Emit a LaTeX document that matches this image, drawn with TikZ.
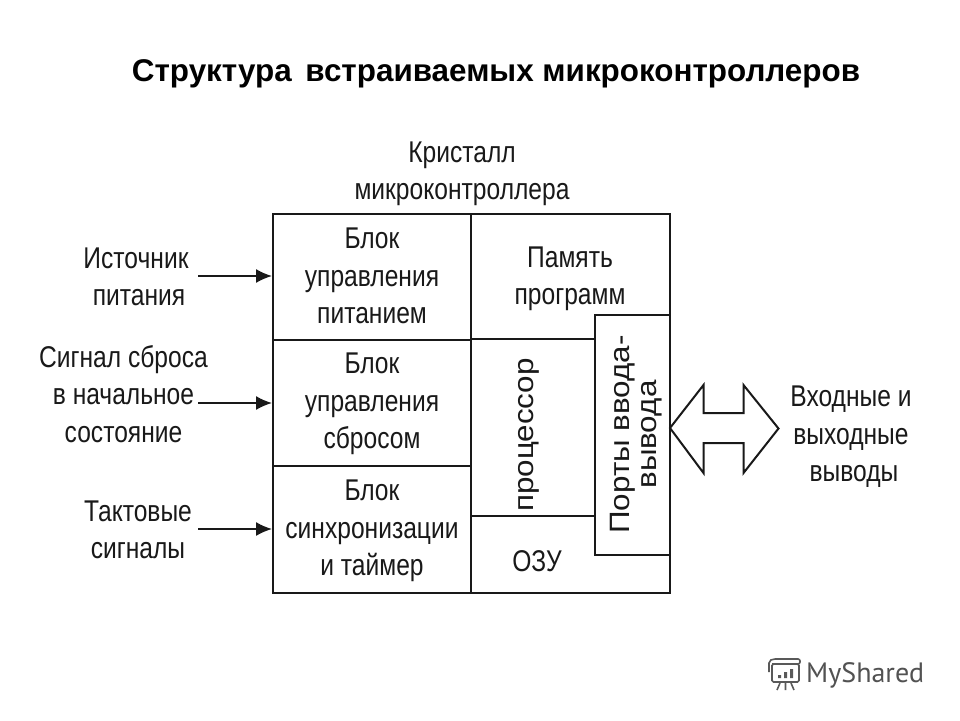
\documentclass[tikz,border=0pt]{standalone}
\usepackage{fontspec}
\setmainfont{Liberation Sans}
\newfontfamily\narrowf[FakeStretch=0.82]{Liberation Sans}
\newfontfamily\widef[FakeStretch=1.12]{Liberation Sans}
\newfontfamily\logof{PT Sans}
\usetikzlibrary{arrows.meta}
\tikzset{
  lbl/.style={align=center,font=\narrowf\fontsize{30}{37.5}\selectfont,inner sep=0pt,text=black!90},
  vert/.style={rotate=90,font=\widef\fontsize{28}{30}\selectfont,inner sep=0pt,text=black!90},
  blockbox/.style={draw=black!90,line width=2pt,inner sep=0pt,anchor=north west},
  ln/.style={draw=black!90,line width=2pt},
  arr/.style={draw=black!90,line width=1.6pt,-{Latex[length=16pt,width=14pt]}},
  logoline/.style={draw=black!65,line width=1.6pt}
}
\begin{document}
\begin{tikzpicture}[x=1pt,y=-1pt]
\useasboundingbox (0,0) rectangle (960,720);
\fill[white] (0,0) rectangle (960,720);
\node[inner sep=0pt,font=\bfseries\fontsize{31.4}{36}\selectfont] (title) at (496,74) {Структура\hspace{5pt} встраиваемых микроконтроллеров};
\node[lbl] (crystal) at (462,174) {Кристалл\\микроконтроллера};
% blocks
\node[blockbox,minimum width=198pt,minimum height=126pt] (blk1) at (272,213) {};
\node[blockbox,minimum width=198pt,minimum height=126pt] (blk2) at (272,339) {};
\node[blockbox,minimum width=198pt,minimum height=127pt] (blk3) at (272,465) {};
\node[blockbox,minimum width=199pt,minimum height=379pt] (right) at (470,213) {};
\node[blockbox,minimum width=75pt,minimum height=240pt] (ports) at (594,314) {};
\coordinate (p1) at (470,339);
\coordinate (p2) at (470,516);
\draw[ln] (p1) -- (p1 -| ports.west);
\draw[ln] (p2) -- (p2 -| ports.west);
% block texts
\node[lbl] (t1) at (372,276) {Блок\\управления\\питанием};
\node[lbl] (t2) at (372,404) {Блок\\управления\\сбросом};
\node[lbl] (t3) at (372,531) {Блок\\синхронизации\\и таймер};
\node[lbl] (mem) at (570,279) {Память\\программ};
\node[lbl] (ram) at (537,561) {ОЗУ};
\node[vert] (cpu) at (529,435) {процессор};
\node[vert] (port1) at (623,434.5) {Порты ввода-};
\node[vert] (port2) at (652,434.5) {вывода};
% inputs
\node[lbl] (src) at (136,277) {Источник\\\hspace{6pt}питания};
\node[lbl] (rst) at (123.5,394) {Сигнал сброса\\в начальное\\состояние};
\node[lbl] (clk) at (138,530) {Тактовые\\сигналы};
\coordinate (a1) at (198,276);
\coordinate (a2) at (198,403);
\coordinate (a3) at (198,529);
\draw[arr] (a1) -- (a1 -| blk1.west);
\draw[arr] (a2) -- (a2 -| blk2.west);
\draw[arr] (a3) -- (a3 -| blk3.west);
% double arrow
\draw[draw=black!90,line width=2pt,fill=white,miter limit=10]
  (670,428) -- (703.5,385) -- (703.5,413) -- (743.5,413) -- (743.5,385) -- (778.5,428.5)
  -- (743.5,473) -- (743.5,443) -- (703.5,443) -- (703.5,473) -- cycle;
\node[lbl] (out) at (851,437) {Входные и\\выходные\\\hspace{6pt}выводы};
% logo
\node[inner sep=0pt,anchor=west,text=black!68,font=\logof\fontsize{28}{30}\selectfont] (logo) at (806,675) {MyShared};
\draw[logoline,rounded corners=1.5pt] (772,664) rectangle (799,682);
\draw[logoline,rounded corners=2pt] (769,672) -- (769,661) -- (773,659) -- (800,659) -- (800,664) -- (772,664);
\fill[black!65] (778,675) rectangle (781,678) (784,672) rectangle (787,678) (790,669) rectangle (793,678);
\draw[logoline] (780,683) -- (777,690) (785.5,683) -- (785.5,690) (791,683) -- (794,690);
\end{tikzpicture}
\end{document}
